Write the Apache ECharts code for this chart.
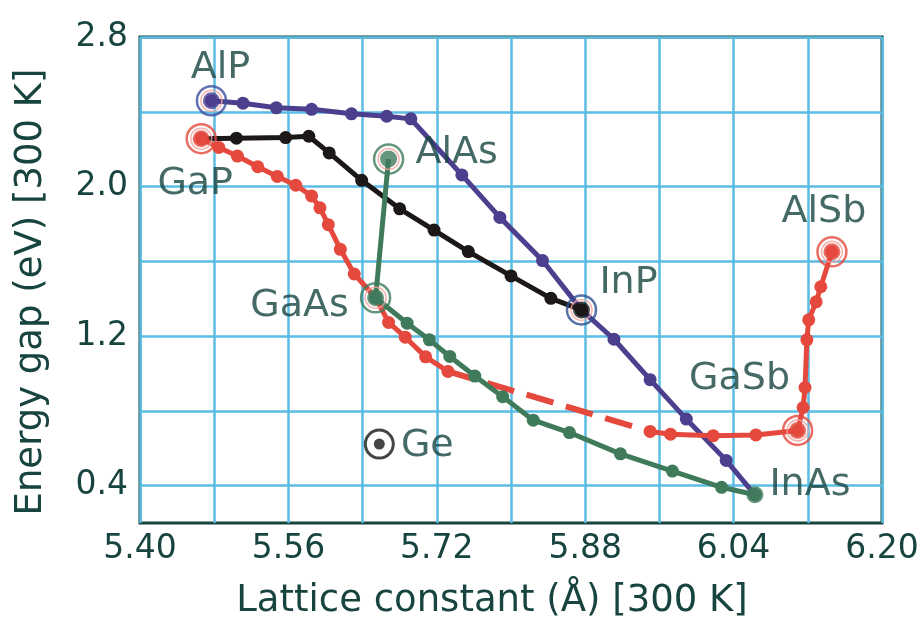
<!DOCTYPE html>
<html>
<head>
<meta charset="utf-8">
<script src="https://cdn.jsdelivr.net/npm/echarts@6/dist/echarts.min.js"></script>
<style>
  html, body { margin: 0; padding: 0; background: #fff; }
  #main { width: 922px; height: 625px; }
</style>
</head>
<body>
<div id="main"></div>
<script>
// axis ticks
var xGrid = [5.40, 5.48, 5.56, 5.64, 5.72, 5.80, 5.88, 5.96, 6.04, 6.12, 6.20];
var xLabels = [5.40, 5.56, 5.72, 5.88, 6.04, 6.20];
var yGrid = [0.4, 0.8, 1.2, 1.6, 2.0, 2.4, 2.8];
var yLabels = [0.4, 1.2, 2.0, 2.8];

// AlP - InP - InAs
var alInP = [[5.477, 2.459], [5.511, 2.446], [5.547, 2.421], [5.585, 2.413], [5.628, 2.389],
  [5.666, 2.376], [5.692, 2.362], [5.747, 2.062], [5.788, 1.835], [5.834, 1.604],
  [5.876, 1.340], [5.911, 1.183], [5.950, 0.967], [5.989, 0.756], [6.032, 0.535], [6.063, 0.351]];
// GaP - InP
var gaInP = [[5.466, 2.256], [5.504, 2.259], [5.557, 2.262], [5.582, 2.269], [5.604, 2.180],
  [5.639, 2.033], [5.680, 1.881], [5.717, 1.767], [5.754, 1.652], [5.800, 1.522],
  [5.843, 1.402], [5.876, 1.340]];
// GaP - GaAs - (gap) - GaSb - AlSb
var gaAsP = [[5.466, 2.256], [5.485, 2.209], [5.505, 2.163], [5.527, 2.106], [5.548, 2.054],
  [5.568, 2.007], [5.585, 1.950], [5.594, 1.886], [5.603, 1.796], [5.616, 1.664],
  [5.631, 1.532], [5.654, 1.405], [5.668, 1.273], [5.686, 1.194], [5.708, 1.089], [5.732, 1.011]];
var gaAsSbGap = [[5.732, 1.011], [5.950, 0.690]];
var gaSbAl = [[5.950, 0.690], [5.972, 0.675], [6.018, 0.667], [6.064, 0.671], [6.109, 0.695],
  [6.115, 0.818], [6.117, 0.925], [6.119, 1.180], [6.121, 1.287], [6.129, 1.383],
  [6.134, 1.464], [6.146, 1.651]];
// AlAs - GaAs - InAs
var alGaAs = [[5.668, 2.147], [5.654, 1.405]];
var gaInAs = [[5.654, 1.405], [5.688, 1.269], [5.712, 1.180], [5.734, 1.091], [5.761, 0.986],
  [5.791, 0.876], [5.824, 0.750], [5.863, 0.684], [5.918, 0.570], [5.974, 0.478],
  [6.027, 0.391], [6.063, 0.351]];

var binaryNames = ['AlP', 'GaP', 'AlAs', 'GaAs', 'InP', 'InAs', 'GaSb', 'AlSb', 'Ge'];
var binaryX = [5.477, 5.466, 5.668, 5.654, 5.876, 6.063, 6.109, 6.146, 5.658];
var binaryY = [2.459, 2.256, 2.147, 1.405, 1.340, 0.351, 0.695, 1.651, 0.622];

var ink = '#17443f';
var font = 'DejaVu Sans, Verdana, sans-serif';
var cPurple = '#4b3f8e', cBlack = '#1c1818', cRed = '#e5483d', cGreen = '#3f7a5b';
var ringColor = { AlP: '#3d4fa0', GaP: '#e5483d', AlAs: '#3f7a5b', GaAs: '#3f7a5b',
  InP: '#2f4f8f', GaSb: '#e5483d', AlSb: '#e5483d' };
var dotColor = { AlP: cPurple, GaP: cRed, AlAs: cGreen, GaAs: cGreen, InP: cBlack,
  InAs: cGreen, GaSb: cRed, AlSb: cRed };
var labelOffset = { AlP: [9, -33], GaP: [-6, 45], AlAs: [68, -6], GaAs: [-76, 8], InP: [47, -27],
  InAs: [55, -10], GaSb: [-58, -51], AlSb: [-8, -40], Ge: [48, 2] };

function lineSeries(data, color) {
  return {
    type: 'line', data: data, symbol: 'circle', symbolSize: 13,
    lineStyle: { color: color, width: 5 }, itemStyle: { color: color },
    animation: false, z: 3
  };
}

var rings = [], innerRings = [], dots = [], labels = [];
binaryNames.forEach(function (n, i) {
  var p = [binaryX[i], binaryY[i]];
  if (ringColor[n]) {
    rings.push({ value: p, itemStyle: { borderColor: ringColor[n] } });
    innerRings.push({ value: p });
  }
  if (dotColor[n]) {
    dots.push({ value: p, itemStyle: { color: dotColor[n] } });
  }
  labels.push({ value: p, name: n, label: { offset: labelOffset[n] } });
});

var chart = echarts.init(document.getElementById('main'));
chart.setOption({
  backgroundColor: '#fff',
  textStyle: { fontFamily: font },
  grid: { left: 140, right: 40, top: 37, bottom: 102, show: true, borderColor: ink, borderWidth: 3,
    outerBoundsMode: 'none', containLabel: false },
  xAxis: {
    type: 'value', min: 5.40, max: 6.20,
    name: 'Lattice constant (Å) [300 K]', nameLocation: 'middle', nameGap: 60,
    nameTextStyle: { color: ink, fontSize: 37, fontFamily: font, padding: [0, 38, 0, 0] },
    axisLine: { show: false }, axisTick: { show: false, customValues: xGrid },
    axisLabel: { customValues: xLabels, color: ink, fontSize: 33, margin: 10, fontFamily: font,
      formatter: function (v) { return v.toFixed(2); } },
    splitLine: { show: true, lineStyle: { color: '#5bbde3', width: 2.5 } }
  },
  yAxis: {
    type: 'value', min: 0.2, max: 2.8,
    name: 'Energy gap (eV) [300 K]', nameLocation: 'middle', nameGap: 90,
    nameTextStyle: { color: ink, fontSize: 37, fontFamily: font, padding: [0, 24, 0, 0] },
    axisLine: { show: false }, axisTick: { show: false, customValues: yGrid },
    axisLabel: { customValues: yLabels, color: ink, fontSize: 33, margin: 12, fontFamily: font,
      formatter: function (v) { return v.toFixed(1); } },
    splitLine: { show: true, lineStyle: { color: '#5bbde3', width: 2.5 } }
  },
  series: [
    lineSeries(alInP, cPurple),
    lineSeries(gaInP, cBlack),
    lineSeries(gaAsP, cRed),
    { type: 'line', data: gaAsSbGap, symbol: 'none', animation: false, z: 3,
      lineStyle: { color: cRed, width: 6, type: [28, 13] } },
    lineSeries(gaSbAl, cRed),
    { type: 'line', data: alGaAs, symbol: 'none', animation: false, z: 3,
      lineStyle: { color: cGreen, width: 5 } },
    lineSeries(gaInAs, cGreen),
    { type: 'scatter', data: dots, symbol: 'circle', symbolSize: 17, animation: false, z: 4 },
    { type: 'scatter', data: innerRings, symbol: 'circle', symbolSize: 21, animation: false, z: 4,
      itemStyle: { color: 'rgba(255,255,255,0)', borderColor: '#f2a49c', borderWidth: 1.5 } },
    { type: 'scatter', data: rings, symbol: 'circle', symbolSize: 29, animation: false, z: 4,
      itemStyle: { color: 'rgba(255,255,255,0)', borderWidth: 2.5 } },
    { type: 'scatter', data: [[binaryX[8], binaryY[8]]], symbol: 'circle', symbolSize: 28,
      animation: false, z: 4,
      itemStyle: { color: '#fff', borderColor: '#151515', borderWidth: 3 } },
    { type: 'scatter', data: [[binaryX[8], binaryY[8]]], symbol: 'circle', symbolSize: 11,
      animation: false, z: 5, itemStyle: { color: '#151515' } },
    { type: 'scatter', data: labels, symbolSize: 1, animation: false, z: 6,
      itemStyle: { color: 'rgba(0,0,0,0)' },
      label: { show: true, position: 'inside', formatter: '{b}', color: ink, fontSize: 38,
        fontFamily: font } }
  ]
});
</script>
</body>
</html>
